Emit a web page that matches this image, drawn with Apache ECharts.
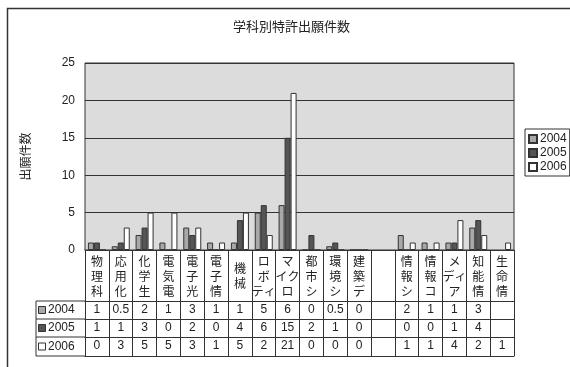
<!DOCTYPE html>
<html>
<head>
<meta charset="utf-8">
<script src="https://cdn.jsdelivr.net/npm/echarts@6/dist/echarts.min.js"></script>
<style>
  html, body { margin: 0; padding: 0; background: #fff; }
  #main { width: 570px; height: 367px; }
</style>
</head>
<body>
<div id="main"></div>
<script>
// 学科 (縦書きラベル)
var categories = ['物\n理\n科', '応\n用\n化', '化\n学\n生', '電\n気\n電', '電\n子\n光', '電\n子\n情', '機\n械',
  'ロ\nボ\nティ', 'マ\nイク\nロ', '都\n市\nシ', '環\n境\nシ', '建\n築\nデ', '',
  '情\n報\nシ', '情\n報\nコ', 'メ\nディ\nア', '知\n能\n情', '生\n命\n情'];
var years = ['2004', '2005', '2006'];
var s2004 = [1, 0.5, 2, 1, 3, 1, 1, 5, 6, 0, 0.5, 0, null, 2, 1, 1, 3, null];
var s2005 = [1, 1, 3, 0, 2, 0, 4, 6, 15, 2, 1, 0, null, 0, 0, 1, 4, null];
var s2006 = [0, 3, 5, 5, 3, 1, 5, 2, 21, 0, 0, 0, null, 1, 1, 4, 2, 1];
var yTicks = [0, 5, 10, 15, 20, 25];

var colors = ['#a8a8a8', '#555555', '#ffffff'];
var lineCol = '#333';
var jpFont = '"Noto Sans CJK JP", sans-serif';
var numFont = '"Liberation Sans", Arial, sans-serif';

var myChart = echarts.init(document.getElementById('main'));

var gridL = 85, gridR = 514, gridT = 63, gridB = 250;
var rowLines = [301, 319, 337, 356];

function cellText(v) {
  return v === null ? '' : String(v);
}

function valueAxis(data, offset) {
  return {
    type: 'category',
    gridIndex: 0,
    position: 'bottom',
    offset: offset,
    data: categories,
    axisLine: { show: true, lineStyle: { color: lineCol, width: 1 } },
    axisTick: { show: false },
    axisLabel: {
      interval: 0,
      margin: 9,
      verticalAlign: 'middle',
      fontSize: 12,
      fontFamily: numFont,
      color: '#222',
      formatter: function (v, i) { return cellText(data[i]); }
    }
  };
}

var seriesList = [s2004, s2005, s2006].map(function (d, i) {
  return {
    name: years[i],
    type: 'bar',
    data: d,
    barWidth: 6,
    barGap: '0%',
    itemStyle: { color: colors[i], borderColor: lineCol, borderWidth: 1 }
  };
});

// key column of the data table
var keyGraphics = [];
rowLines.forEach(function (y) {
  keyGraphics.push({ type: 'line', shape: { x1: 36, y1: y, x2: gridL, y2: y }, style: { stroke: lineCol, lineWidth: 1 } });
});
keyGraphics.push({ type: 'line', shape: { x1: 36, y1: rowLines[0], x2: 36, y2: rowLines[3] }, style: { stroke: lineCol, lineWidth: 1 } });
years.forEach(function (yr, i) {
  var cy = (rowLines[i] + rowLines[i + 1]) / 2;
  keyGraphics.push({ type: 'rect', shape: { x: 38.5, y: cy - 3.5, width: 7, height: 7 }, style: { fill: colors[i], stroke: lineCol, lineWidth: 1 } });
  keyGraphics.push({ type: 'text', x: 48, y: cy, style: { text: yr, fontSize: 12, fontFamily: numFont, fill: '#222', verticalAlign: 'middle' } });
});

var option = {
  animation: false,
  backgroundColor: '#fff',
  title: {
    text: '学科別特許出願件数',
    left: 228,
    top: 15,
    textStyle: { fontSize: 13, fontWeight: 'normal', color: '#222', fontFamily: jpFont }
  },
  legend: {
    data: years,
    orient: 'vertical',
    left: 525,
    top: 129,
    padding: [4, 3, 3, 3],
    itemGap: 2,
    itemWidth: 8,
    itemHeight: 8,
    icon: 'rect',
    borderColor: lineCol,
    borderWidth: 1,
    textStyle: { fontSize: 12, fontFamily: numFont, color: '#222', padding: [0, 0, 0, -2] }
  },
  grid: {
    left: gridL,
    right: 570 - gridR,
    top: gridT,
    bottom: 367 - gridB,
    show: true,
    backgroundColor: '#dcdcdc',
    borderColor: lineCol,
    borderWidth: 1
  },
  xAxis: [
    {
      type: 'category',
      data: categories,
      axisLine: { show: true, lineStyle: { color: lineCol, width: 1 } },
      axisTick: { show: true, interval: 0, length: rowLines[3] - gridB, lineStyle: { color: lineCol, width: 1 } },
      axisLabel: {
        interval: 0,
        margin: 26,
        verticalAlign: 'middle',
        lineHeight: 15,
        fontSize: 12,
        fontFamily: jpFont,
        color: '#222'
      }
    },
    valueAxis(s2004, rowLines[0] - gridB),
    valueAxis(s2005, rowLines[1] - gridB),
    valueAxis(s2006, rowLines[2] - gridB),
    {
      type: 'category',
      position: 'bottom',
      offset: rowLines[3] - gridB,
      data: categories,
      axisLine: { show: true, lineStyle: { color: lineCol, width: 1 } },
      axisTick: { show: false },
      axisLabel: { show: false }
    }
  ],
  yAxis: {
    type: 'value',
    min: yTicks[0],
    max: yTicks[yTicks.length - 1],
    interval: 5,
    name: '出願件数',
    nameLocation: 'middle',
    nameRotate: 90,
    nameGap: 54,
    nameTextStyle: { fontSize: 12, fontFamily: jpFont, color: '#222' },
    axisLine: { show: false },
    axisTick: { show: false },
    axisLabel: { margin: 10, fontSize: 12, fontFamily: numFont, color: '#222' },
    splitLine: { show: true, lineStyle: { color: lineCol, width: 1.2 } }
  },
  graphic: [
    { type: 'rect', z: -1, shape: { x: 7.5, y: 8.5, width: 620, height: 420 }, style: { fill: null, stroke: lineCol, lineWidth: 1.5 } }
  ].concat(keyGraphics),
  series: seriesList
};

myChart.setOption(option);
</script>
</body>
</html>
